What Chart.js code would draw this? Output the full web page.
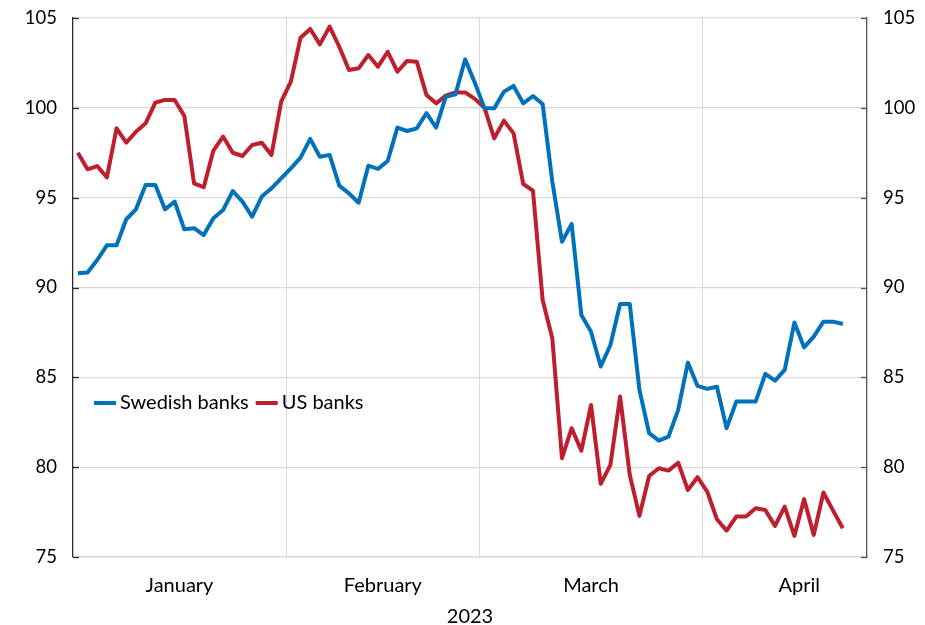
<!DOCTYPE html>
<html>
<head>
<meta charset="utf-8">
<script src="https://cdn.jsdelivr.net/npm/chart.js@4.4.1/dist/chart.umd.min.js"></script>
<style>
  html, body { margin: 0; padding: 0; background: #fff; }
  #wrap { width: 925px; height: 625px; position: relative; }
</style>
</head>
<body>
<div id="wrap"><canvas id="grafico"></canvas></div>
<script>
// index of trading days from 2 Jan 2023 (0) onwards
const sweden = [
  90.79, 90.83, 91.53, 92.35, 92.35, 93.80, 94.35, 95.71, 95.71, 94.35,
  94.78, 93.24, 93.30, 92.92, 93.85, 94.31, 95.37, 94.78, 93.94, 95.06,
  95.52, 96.08, 96.63, 97.23, 98.27, 97.28, 97.38, 95.67, 95.24, 94.72,
  96.78, 96.60, 97.04, 98.90, 98.71, 98.86, 99.70, 98.90, 100.62, 100.75,
  102.70, 101.40, 99.97, 99.97, 100.90, 101.22, 100.25, 100.66, 100.21, 95.90,
  92.55, 93.54, 88.47, 87.54, 85.60, 86.80, 89.08, 89.08, 84.30, 81.89,
  81.48, 81.70, 83.19, 85.82, 84.52, 84.36, 84.48, 82.17, 83.65, 83.65,
  83.65, 85.19, 84.82, 85.41, 88.05, 86.67, 87.27, 88.10, 88.10, 87.97
];
const us = [
  97.50, 96.58, 96.76, 96.13, 98.86, 98.06, 98.67, 99.14, 100.29, 100.44,
  100.44, 99.55, 95.80, 95.58, 97.62, 98.40, 97.50, 97.32, 97.93, 98.06,
  97.38, 100.34, 101.46, 103.90, 104.39, 103.53, 104.52, 103.40, 102.11, 102.20,
  102.94, 102.29, 103.12, 102.01, 102.61, 102.57, 100.72, 100.25, 100.68, 100.86,
  100.86, 100.50, 100.00, 98.30, 99.29, 98.58, 95.76, 95.39, 89.31, 87.18,
  80.50, 82.17, 80.92, 83.46, 79.07, 80.13, 83.93, 79.57, 77.29, 79.51,
  79.94, 79.81, 80.25, 78.73, 79.44, 78.64, 77.10, 76.47, 77.25, 77.25,
  77.71, 77.62, 76.73, 77.80, 76.17, 78.22, 76.23, 78.59, 77.58, 76.60
];
const seriesNames = ["Swedish banks", "US banks"];
const months = ["January", "February", "March", "April"];
const monthCenters = [10.5, 31.5, 53, 74.5];   // in trading-day index
const monthBounds = [21.5, 41.5, 64.5];
const yTicks = [75, 80, 85, 90, 95, 100, 105];
const yearLabel = "2023";

const azul = "#0071bb";
const vermelho = "#be1e2d";
const fonte = "Lato, 'Open Sans', sans-serif";

// legend inside the plot + small inner tick marks on both y axes
const extras = {
  id: "extras",
  afterDraw(chart) {
    const ctx = chart.ctx;
    const area = chart.chartArea;
    const yS = chart.scales.y;
    ctx.save();
    ctx.lineWidth = 1.3;
    yTicks.forEach(v => {
      const py = Math.round(yS.getPixelForValue(v)) + 0.5;
      ctx.strokeStyle = "#2b2b2b";
      ctx.beginPath(); ctx.moveTo(area.left, py); ctx.lineTo(area.left + 6, py); ctx.stroke();
      ctx.strokeStyle = "#555";
      ctx.beginPath(); ctx.moveTo(area.right - 6, py); ctx.lineTo(area.right, py); ctx.stroke();
    });

    ctx.font = "20px " + fonte;
    ctx.textBaseline = "middle";
    ctx.fillStyle = "#000";
    let x = area.left + 21;
    const y = 403;
    [azul, vermelho].forEach((cor, i) => {
      ctx.strokeStyle = cor;
      ctx.lineWidth = 4;
      ctx.beginPath(); ctx.moveTo(x, y); ctx.lineTo(x + 22, y); ctx.stroke();
      x += 26;
      ctx.fillText(seriesNames[i], x, y);
      x += ctx.measureText(seriesNames[i]).width + 7;
    });
    ctx.restore();
  }
};

const serie = arr => arr.map((v, i) => ({ x: i, y: v }));

// fixed axis sizes so the plot area lands where the original has it
const fixY = w => s => { s.width = w; s.paddingTop = 0; s.paddingBottom = 0; };

new Chart(document.getElementById("grafico"), {
  type: "line",
  data: {
    datasets: [
      { label: seriesNames[0], data: serie(sweden), borderColor: azul, borderWidth: 4,
        pointRadius: 0, tension: 0, borderJoinStyle: "round", yAxisID: "y" },
      { label: seriesNames[1], data: serie(us), borderColor: vermelho, borderWidth: 4,
        pointRadius: 0, tension: 0, borderJoinStyle: "round", yAxisID: "y" }
    ]
  },
  options: {
    responsive: true,
    maintainAspectRatio: false,
    animation: false,
    layout: { padding: { top: 18, left: 0, right: 0, bottom: 0 } },
    plugins: { legend: { display: false }, tooltip: { enabled: false } },
    scales: {
      x: {
        type: "linear",
        min: -0.5,
        max: 81.5,
        afterBuildTicks: s => {
          s.ticks = monthCenters.concat(monthBounds).map(v => ({ value: v }));
        },
        afterFit: s => { s.height = 68; s.paddingLeft = 0; s.paddingRight = 0; },
        ticks: {
          autoSkip: false, maxRotation: 0, padding: 17, color: "#000",
          font: { family: fonte, size: 20 },
          callback: v => {
            const k = monthCenters.indexOf(v);
            return k >= 0 ? months[k] : "";
          }
        },
        grid: {
          drawTicks: false,
          color: c => (c.tick && monthBounds.includes(c.tick.value)) ? "#d9d9d9" : "rgba(0,0,0,0)"
        },
        border: { color: "#d9d9d9", width: 1.5 },
        title: {
          display: true, text: yearLabel, color: "#000",
          font: { family: fonte, size: 20 }, padding: { top: 0, bottom: -4 }
        }
      },
      y: {
        position: "left",
        min: 75, max: 105,
        afterBuildTicks: s => { s.ticks = yTicks.map(v => ({ value: v })); },
        afterFit: fixY(73),
        ticks: { padding: 16, color: "#000", font: { family: fonte, size: 18.5 } },
        grid: { drawTicks: false, color: "#d9d9d9", lineWidth: 1.3 },
        border: { color: "#2b2b2b", width: 1.3 }
      },
      y2: {
        position: "right",
        min: 75, max: 105,
        afterBuildTicks: s => { s.ticks = yTicks.map(v => ({ value: v })); },
        afterFit: fixY(58),
        ticks: { padding: 16, color: "#000", font: { family: fonte, size: 18.5 } },
        grid: { display: false, drawTicks: false },
        border: { color: "#555", width: 1.3 }
      }
    }
  },
  plugins: [extras]
});
</script>
</body>
</html>
